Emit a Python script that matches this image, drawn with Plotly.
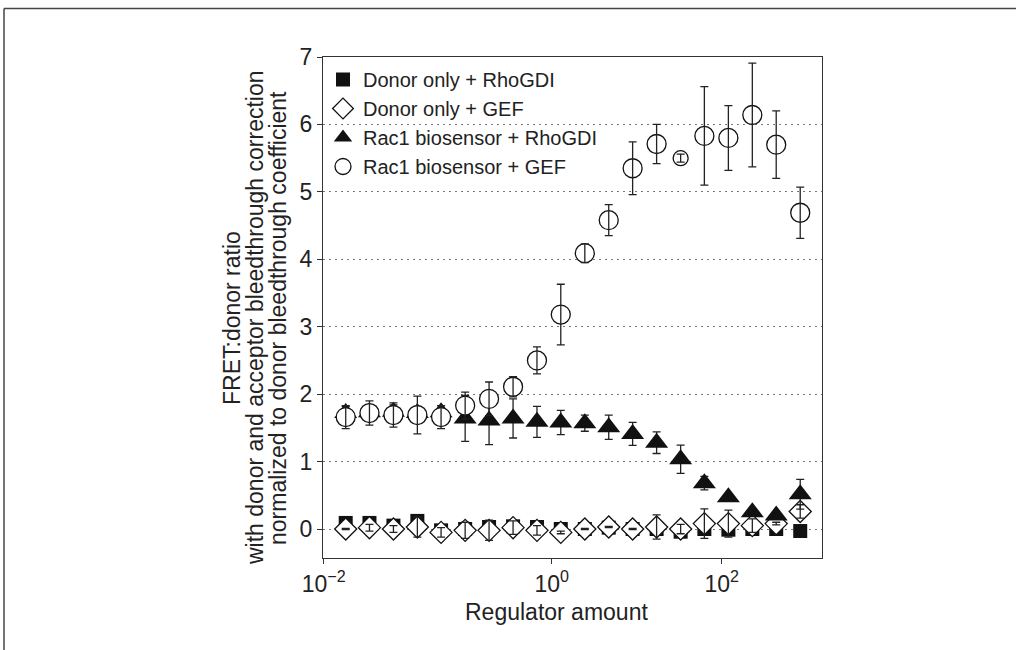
import plotly.graph_objects as go

# ---------------- data ----------------
regulator_amount = [0.0156, 0.0252, 0.0409, 0.0663, 0.107, 0.174, 0.282, 0.458, 0.742, 1.20,
                    1.95, 3.16, 5.12, 8.31, 13.5, 21.8, 35.4, 57.4, 93.0, 151.0]

donor_rhogdi = [0.09, 0.09, 0.05, 0.12, -0.02, 0.0, 0.03, 0.04, 0.03, 0.0,
                0.0, 0.02, 0.0, 0.0, -0.04, 0.0, -0.01, 0.0, 0.0, -0.03]
donor_rhogdi_err = [0.03, 0.03, 0.03, 0.06, 0.02, 0.03, 0.03, 0.03, 0.03, 0.02,
                    0.02, 0.02, 0.02, 0.02, 0.02, 0.03, 0.03, 0.03, 0.02, 0.02]

donor_gef = [0.0, 0.02, 0.0, 0.03, -0.05, -0.02, -0.02, 0.02, -0.02, -0.05,
             0.0, 0.03, 0.0, 0.03, 0.0, 0.08, 0.08, 0.05, 0.08, 0.26]
donor_gef_err = [0.01, 0.05, 0.05, 0.15, 0.07, 0.12, 0.15, 0.1, 0.07, 0.02,
                 0.01, 0.01, 0.01, 0.18, 0.07, 0.22, 0.2, 0.1, 0.02, 0.1]

rac1_rhogdi = [1.72, 1.73, 1.74, 1.72, 1.73, 1.64, 1.61, 1.64, 1.59, 1.58,
               1.57, 1.51, 1.41, 1.28, 1.035, 0.68, 0.47, 0.25, 0.2, 0.515]
rac1_rhogdi_err = [0.1, 0.1, 0.1, 0.1, 0.1, 0.34, 0.36, 0.29, 0.23, 0.18,
                   0.12, 0.18, 0.17, 0.16, 0.21, 0.1, 0.05, 0.05, 0.04, 0.22]

rac1_gef = [1.66, 1.72, 1.69, 1.69, 1.66, 1.83, 1.93, 2.11, 2.5, 3.18,
            4.09, 4.58, 5.35, 5.71, 5.5, 5.83, 5.8, 6.14, 5.7, 4.69]
rac1_gef_err = [0.17, 0.18, 0.18, 0.28, 0.17, 0.2, 0.25, 0.15, 0.2, 0.45,
                0.14, 0.23, 0.39, 0.29, 0.06, 0.73, 0.48, 0.77, 0.5, 0.38]

x_tick_vals = [0.01, 1, 31]
x_tick_text = ["10<sup>\u22122</sup>", "10<sup>0</sup>", "10<sup>2</sup>"]
y_tick_vals = [0, 1, 2, 3, 4, 5, 6, 7]

series_names = ["Donor only + RhoGDI", "Donor only + GEF",
                "Rac1 biosensor + RhoGDI", "Rac1 biosensor + GEF"]
y_title_lines = ["FRET:donor ratio",
                 "with donor and acceptor bleedthrough correction",
                 "normalized to donor bleedthrough coefficient"]
x_title = "Regulator amount"

# ---------------- style ----------------
W, H = 1016, 650
L, R, T, B = 323, 194, 57, 92
PW, PH = W - L - R, H - T - B
FONT = "Arial, Liberation Sans, Helvetica, sans-serif"
INK = "#222222"
circle_sizes = [19] * 14 + [15] + [19] * 5


def px(xp):
    return (xp - L) / PW


def py(yp):
    return 1 - (yp - T) / PH


def err(vals):
    return dict(type="data", array=vals, visible=True, color=INK, thickness=1.3, width=4)


fig = go.Figure()
fig.add_trace(go.Scatter(
    x=regulator_amount, y=donor_rhogdi, name=series_names[0], mode="markers",
    error_y=err(donor_rhogdi_err),
    marker=dict(symbol="square", size=14, color="#111111", opacity=1, line=dict(width=0))))
fig.add_trace(go.Scatter(
    x=regulator_amount, y=donor_gef, name=series_names[1], mode="markers",
    marker=dict(symbol="diamond", size=17, color="white", opacity=1,
                line=dict(width=1.3, color="#111111"))))
# error bars of the diamonds drawn over their white fill
fig.add_trace(go.Scatter(
    x=regulator_amount, y=donor_gef, mode="markers", showlegend=False, hoverinfo="skip",
    error_y=err(donor_gef_err), marker=dict(size=2, opacity=0)))
fig.add_trace(go.Scatter(
    x=regulator_amount, y=rac1_rhogdi, name=series_names[2], mode="markers",
    error_y=err(rac1_rhogdi_err),
    marker=dict(symbol="triangle-up", size=20, color="#111111", opacity=1, line=dict(width=0))))
fig.add_trace(go.Scatter(
    x=regulator_amount, y=rac1_gef, name=series_names[3], mode="markers",
    marker=dict(symbol="circle", size=circle_sizes, sizemode="diameter", color="white", opacity=1,
                line=dict(width=1.3, color="#111111"))))
# error bars of the circles drawn over their white fill
fig.add_trace(go.Scatter(
    x=regulator_amount, y=rac1_gef, mode="markers", showlegend=False, hoverinfo="skip",
    error_y=err(rac1_gef_err), marker=dict(size=2, opacity=0)))

annotations = []
for line, xc in zip(y_title_lines, [232, 255, 278]):
    annotations.append(dict(
        text=line, x=px(xc), y=py(318), xref="paper", yref="paper",
        textangle=-90, showarrow=False, xanchor="center", yanchor="middle",
        font=dict(size=23, color=INK, family=FONT)))
annotations.append(dict(
    text=x_title, x=px(556), y=py(612), xref="paper", yref="paper",
    showarrow=False, xanchor="center", yanchor="middle",
    font=dict(size=23, color=INK, family=FONT)))

shapes = [
    dict(type="line", xref="paper", yref="paper", x0=px(4), x1=px(1016), y0=py(8.5), y1=py(8.5),
         line=dict(color="#444444", width=1.5)),
    dict(type="line", xref="paper", yref="paper", x0=px(4), x1=px(4), y0=py(8.5), y1=py(650),
         line=dict(color="#444444", width=1.5)),
]

fig.update_layout(
    width=W, height=H,
    margin=dict(l=L, r=R, t=T, b=B, pad=0),
    paper_bgcolor="white", plot_bgcolor="white",
    font=dict(family=FONT, size=21, color=INK),
    showlegend=True,
    legend=dict(x=0.0, y=py(60), xanchor="left", yanchor="top", bgcolor="rgba(0,0,0,0)",
                font=dict(size=20, color=INK, family=FONT), tracegroupgap=0),
    annotations=annotations,
    shapes=shapes,
    xaxis=dict(type="log", range=[-2.006, 2.37], tickvals=x_tick_vals, ticktext=x_tick_text,
               showgrid=False, zeroline=False, showline=True, linecolor="#333333", linewidth=1.3,
               mirror=True, ticks="outside", ticklen=5, tickcolor="#333333",
               tickfont=dict(size=23, color=INK, family=FONT)),
    yaxis=dict(range=[-0.43, 7.0], tickvals=y_tick_vals,
               showgrid=True, gridcolor="#777777", griddash="1.5px,4.5px", gridwidth=1.2,
               zeroline=False, showline=True, linecolor="#333333", linewidth=1.3,
               mirror=True, ticks="outside", ticklen=5, tickcolor="#333333",
               tickfont=dict(size=23, color=INK, family=FONT)),
)

fig.write_html("out.html")
